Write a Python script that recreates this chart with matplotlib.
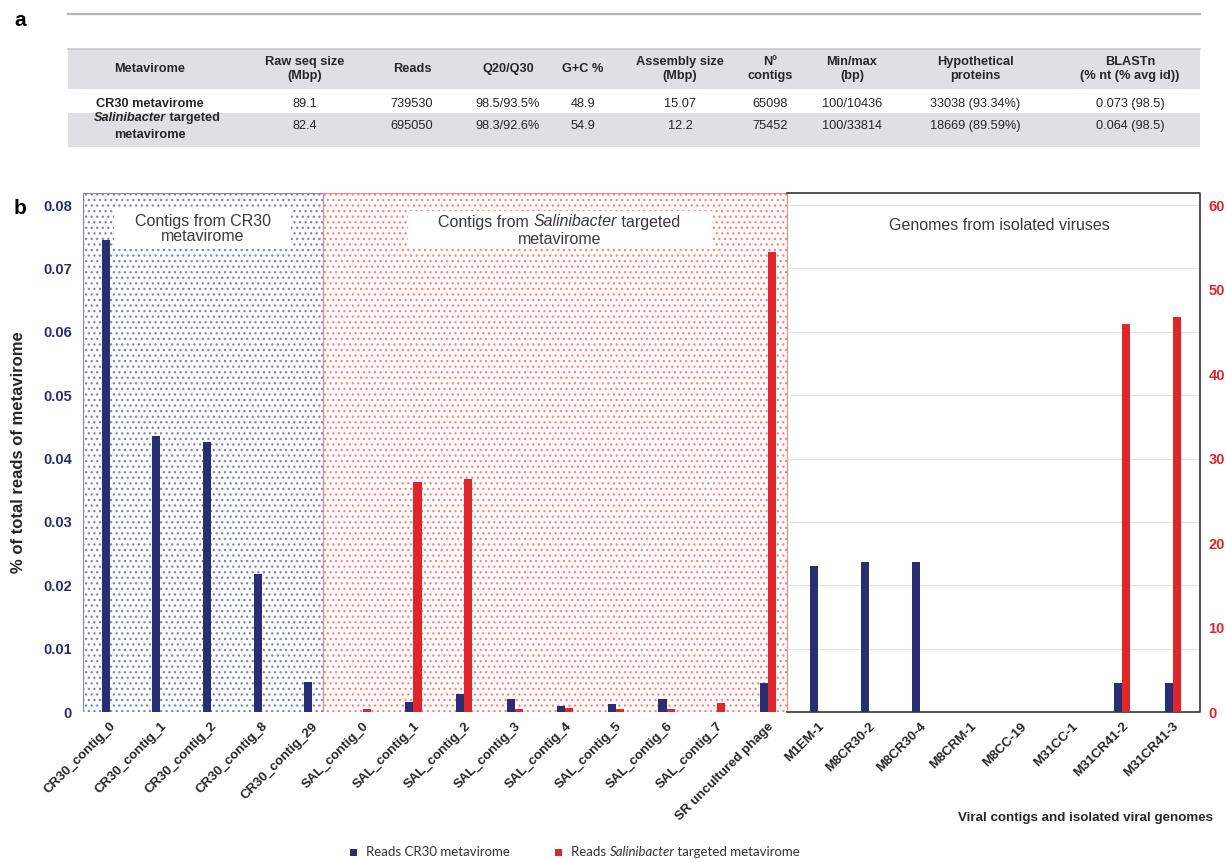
import numpy as np
import matplotlib.pyplot as plt
import matplotlib.patches as mpatches

plt.rcParams['font.family'] = ['Liberation Sans', 'DejaVu Sans']
plt.rcParams['hatch.linewidth'] = 0.9

# ---------------- data ----------------
table_header = ["Metavirome", "Raw seq size\n(Mbp)", "Reads", "Q20/Q30", "G+C %",
                "Assembly size\n(Mbp)", "Nº\ncontigs", "Min/max\n(bp)",
                "Hypothetical\nproteins", "BLASTn\n(% nt (% avg id))"]
cr30_row = ["89.1", "739530", "98.5/93.5%", "48.9", "15.07", "65098",
            "100/10436", "33038 (93.34%)", "0.073 (98.5)"]
sal_row = ["82.4", "695050", "98.3/92.6%", "54.9", "12.2", "75452",
           "100/33814", "18669 (89.59%)", "0.064 (98.5)"]

labels = ["CR30_contig_0", "CR30_contig_1", "CR30_contig_2", "CR30_contig_8",
          "CR30_contig_29", "SAL_contig_0", "SAL_contig_1", "SAL_contig_2",
          "SAL_contig_3", "SAL_contig_4", "SAL_contig_5", "SAL_contig_6",
          "SAL_contig_7", "SR uncultured phage", "M1EM-1", "M8CR30-2",
          "M8CR30-4", "M8CRM-1", "M8CC-19", "M31CC-1", "M31CR41-2", "M31CR41-3"]
# left axis (% of total reads)
reads_cr30 = [0.0745, 0.0435, 0.0426, 0.0217, 0.0048, 0.0, 0.0016, 0.0028,
              0.0020, 0.0010, 0.0013, 0.0021, 0.0, 0.0046, 0.0230, 0.0237,
              0.0237, 0.0, 0.0, 0.0, 0.0045, 0.0045]
# right axis
reads_sal = [0.0, 0.0, 0.0, 0.0, 0.0, 0.35, 27.2, 27.6, 0.4, 0.5, 0.4, 0.3,
             1.1, 54.4, 0.0, 0.0, 0.0, 0.0, 0.0, 0.0, 45.9, 46.7]
left_ticks = [0, 0.01, 0.02, 0.03, 0.04, 0.05, 0.06, 0.07, 0.08]
right_ticks = [0, 10, 20, 30, 40, 50, 60]

NAVY = '#2a2d72'
RED = '#e0252b'
TXT = '#262626'
BOXTXT = '#3a3a3a'

W, H = 1225, 859
fig = plt.figure(figsize=(W / 100, H / 100), dpi=100)

# overlay in pixel coords for table / free text (drawn on top of the chart)
ov = fig.add_axes([0, 0, 1, 1])
ov.set_xlim(0, W); ov.set_ylim(H, 0); ov.axis('off')
ov.set_zorder(5)

# ---------------- a: table ----------------
ov.text(14, 21, "a", fontsize=15, fontweight='bold', va='center')
ov.plot([68, 1200], [14, 14], color='#b5b5b5', lw=1.6)
ov.add_patch(mpatches.Rectangle((68, 49), 1132, 40, color='#dfe0e3', lw=0))
ov.plot([68, 1200], [49, 49], color='#c9c9cc', lw=1.2)
ov.add_patch(mpatches.Rectangle((68, 113), 1132, 34, color='#dfe0e3', lw=0))

col_x = [150, 305, 412, 508, 583, 680, 770, 852, 975, 1130]
fs_t = 9.2
for cx, h in zip(col_x, table_header):
    ov.text(cx, 69, h, ha='center', va='center', fontsize=fs_t,
            fontweight='bold', color=TXT, linespacing=1.25)
ov.text(col_x[0], 104, "CR30 metavirome", ha='center', va='center',
        fontsize=fs_t, fontweight='bold', color=TXT)
for cx, v in zip(col_x[1:], cr30_row):
    ov.text(cx, 104, v, ha='center', va='center', fontsize=fs_t, color=TXT)
t = ov.text(94, 118, "Salinibacter", ha='left', va='center', fontsize=fs_t,
            fontweight='bold', style='italic', color=TXT)
ov.annotate(" targeted", xy=(1, 0), xycoords=t, ha='left', va='bottom',
            fontsize=fs_t, fontweight='bold', color=TXT)
ov.text(col_x[0], 135, "metavirome", ha='center', va='center', fontsize=fs_t,
        fontweight='bold', color=TXT)
for cx, v in zip(col_x[1:], sal_row):
    ov.text(cx, 126, v, ha='center', va='center', fontsize=fs_t, color=TXT)

# ---------------- b: bar chart ----------------
ov.text(14, 209, "b", fontsize=15, fontweight='bold', va='center')

ax = fig.add_axes([83 / W, 147 / H, 1117 / W, 519 / H])
ax2 = ax.twinx()
x = np.arange(len(labels))
bw = 0.16
ymax = 0.0819
ax.set_xlim(-0.53, 21.54)
ax.set_ylim(0, ymax)
ax2.set_ylim(0, ymax * 750)

b1, b2 = 4.21, 13.38
trans = ax.get_xaxis_transform()
ax.add_patch(mpatches.Rectangle((-0.53, 0), b1 + 0.53, 1, transform=trans,
                                facecolor='#fbfcfe', edgecolor='#7d88a8',
                                hatch='...', lw=0.8, zorder=0))
ax.add_patch(mpatches.Rectangle((b1, 0), b2 - b1, 1, transform=trans,
                                facecolor='#fffafa', edgecolor='#ec8a8a',
                                hatch='...', lw=0.8, zorder=0))
ax.hlines(left_ticks[1:], b2, 21.54, color='#e4e4e4', lw=0.8, zorder=1)
ax.plot([b2, 21.54, 21.54, b2], [ymax, ymax, 0, 0], color='#333333',
        lw=1.2, zorder=4, clip_on=False)

ax.bar(x - bw / 2, reads_cr30, bw, color=NAVY, zorder=3)
ax2.bar(x + bw / 2, reads_sal, bw, color=RED, zorder=3)

for s in ['top', 'right', 'left', 'bottom']:
    ax.spines[s].set_visible(False)
    ax2.spines[s].set_visible(False)

ax.set_yticks(left_ticks)
ax.set_yticklabels(['0'] + [f"{v:.2f}" for v in left_ticks[1:]])
ax.tick_params(axis='y', length=0, pad=8, labelsize=10.5, labelcolor=NAVY)
for lb in ax.get_yticklabels():
    lb.set_fontweight('bold')
ax2.set_yticks(right_ticks)
ax2.tick_params(axis='y', length=0, pad=6, labelsize=10.5, labelcolor=RED)
for lb in ax2.get_yticklabels():
    lb.set_fontweight('bold')

ax.set_xticks(x)
ax.set_xticklabels(labels, rotation=45, ha='right', rotation_mode='anchor',
                   fontsize=9.5, fontweight='bold', color=TXT)
ax.tick_params(axis='x', length=0, pad=6)

ov.text(19, 452, "% of total reads of metavirome", rotation=90, ha='center',
        va='center', fontsize=12, fontweight='bold', color=TXT)

# section labels
ov.add_patch(mpatches.Rectangle((114, 207), 177, 42, color='white', lw=0))
ov.text(203, 229, "Contigs from CR30\nmetavirome", ha='center',
        va='center', fontsize=11.5, color=BOXTXT, linespacing=1.05)
ov.add_patch(mpatches.Rectangle((408, 211), 304, 37, color='white', lw=0))
t = ov.text(438, 222, "Contigs from ", ha='left', va='center', fontsize=11.5,
            color=BOXTXT)
t = ov.annotate("Salinibacter", xy=(1, 0), xycoords=t, ha='left', va='bottom',
                fontsize=11.5, style='italic', color=BOXTXT)
ov.annotate(" targeted", xy=(1, 0), xycoords=t, ha='left', va='bottom',
            fontsize=11.5, color=BOXTXT)
ov.text(560, 240, "metavirome", ha='center', va='center', fontsize=11.5,
        color=BOXTXT)
ax.text(17.57, 0.0768, "Genomes from isolated viruses", ha='center',
        va='center', fontsize=11.5, color=BOXTXT, zorder=5)

# axis title bottom right
ov.text(1213, 818, "Viral contigs and isolated viral genomes", ha='right',
        va='center', fontsize=9.6, fontweight='bold', color=TXT)

# legend
lf = ['Lato', 'DejaVu Sans']
ov.add_patch(mpatches.Rectangle((350, 849), 7, 7, color=NAVY, lw=0))
ov.text(366, 852, "Reads CR30 metavirome", ha='left', va='center',
        fontsize=9.5, family=lf, color='#333333')
ov.add_patch(mpatches.Rectangle((555, 849), 7, 7, color=RED, lw=0))
t = ov.text(571, 852, "Reads ", ha='left', va='center', fontsize=9.5,
            family=lf, color='#333333')
t = ov.annotate("Salinibacter", xy=(1, 0), xycoords=t, ha='left',
                va='bottom', fontsize=9.5, family=lf, style='italic',
                color='#333333')
ov.annotate(" targeted metavirome", xy=(1, 0), xycoords=t, ha='left',
            va='bottom', fontsize=9.5, family=lf, color='#333333')

fig.savefig("out.png", dpi=100)
